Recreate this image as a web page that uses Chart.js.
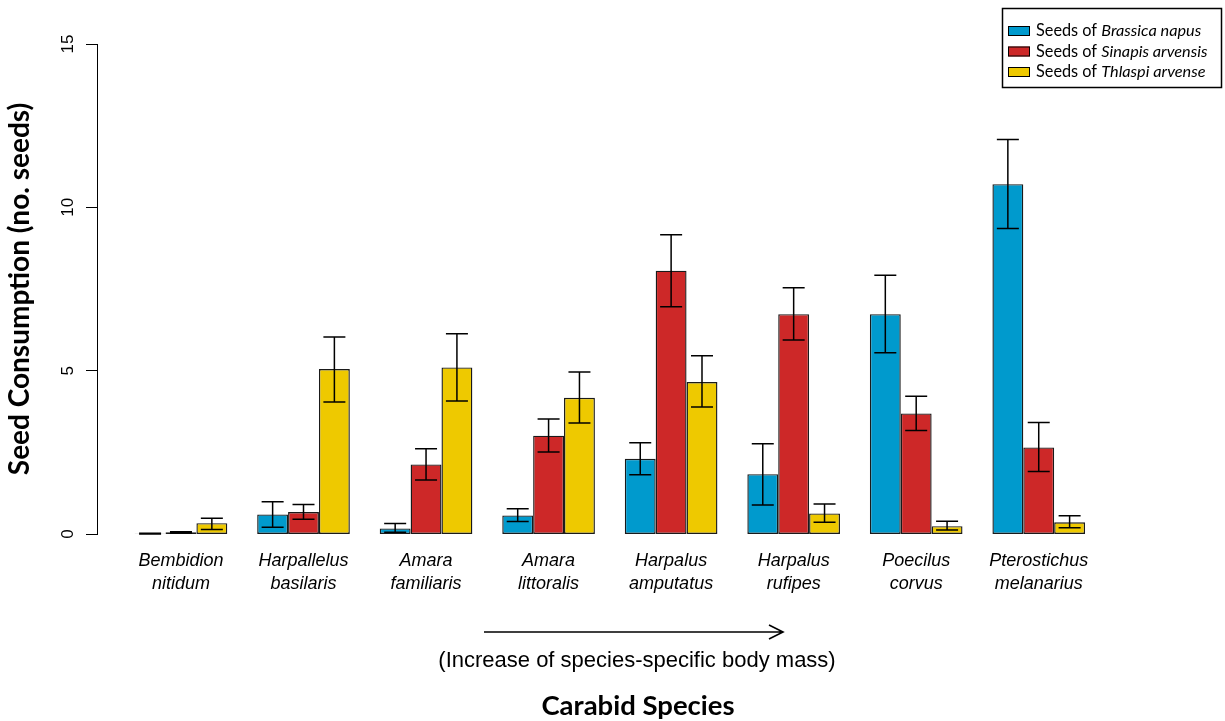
<!DOCTYPE html>
<html>
<head>
<meta charset="utf-8">
<script src="https://cdn.jsdelivr.net/npm/chart.js@4.4.1/dist/chart.umd.min.js"></script>
<style>
  html, body { margin: 0; padding: 0; background: #fff; }
</style>
</head>
<body>
<canvas id="seedChart" width="1225" height="721"></canvas>
<script>
// carabid species, ordered by body mass
const carabidSpecies = [
  ["Bembidion", "nitidum"],
  ["Harpallelus", "basilaris"],
  ["Amara", "familiaris"],
  ["Amara", "littoralis"],
  ["Harpalus", "amputatus"],
  ["Harpalus", "rufipes"],
  ["Poecilus", "corvus"],
  ["Pterostichus", "melanarius"],
];

const seedSpecies = ["Brassica napus", "Sinapis arvensis", "Thlaspi arvense"];

// mean seeds eaten + error bar ends
const brassicaMean = [0.01, 0.6, 0.17, 0.57, 2.3, 1.83, 6.73, 10.71];
const brassicaLow = [0, 0.21, 0.05, 0.38, 1.81, 0.89, 5.55, 9.35];
const brassicaHigh = [0.02, 0.99, 0.32, 0.77, 2.79, 2.76, 7.92, 12.08];

const sinapisMean = [0.05, 0.67, 2.13, 3.01, 8.06, 6.73, 3.69, 2.65];
const sinapisLow = [0.03, 0.45, 1.65, 2.51, 6.96, 5.94, 3.17, 1.91];
const sinapisHigh = [0.07, 0.9, 2.61, 3.52, 9.16, 7.54, 4.22, 3.41];

const thlaspiMean = [0.33, 5.05, 5.1, 4.17, 4.65, 0.63, 0.24, 0.36];
const thlaspiLow = [0.14, 4.04, 4.07, 3.4, 3.89, 0.36, 0.12, 0.19];
const thlaspiHigh = [0.48, 6.03, 6.13, 4.96, 5.46, 0.92, 0.39, 0.56];

const yTicks = [0, 5, 10, 15];

const colors = ["#009ACD", "#CD2828", "#EEC900"];
const arial = "'Liberation Sans', Arial, sans-serif";
const calibri = "Lato, 'Open Sans', sans-serif";

const errorBars = {
  id: "errorBars",
  afterDatasetsDraw(chart) {
    const { ctx } = chart;
    const y = chart.scales.y;
    ctx.save();
    ctx.strokeStyle = "#000";
    ctx.lineWidth = 1.5;
    chart.data.datasets.forEach((ds, di) => {
      chart.getDatasetMeta(di).data.forEach((bar, i) => {
        const top = y.getPixelForValue(ds.errorHigh[i]);
        const bottom = y.getPixelForValue(ds.errorLow[i]);
        const half = 11;
        ctx.beginPath();
        ctx.moveTo(bar.x, top);
        ctx.lineTo(bar.x, bottom);
        ctx.moveTo(bar.x - half, top);
        ctx.lineTo(bar.x + half, top);
        ctx.moveTo(bar.x - half, bottom);
        ctx.lineTo(bar.x + half, bottom);
        ctx.stroke();
      });
    });
    ctx.restore();
  },
};

// legend box with italic species names + bottom arrow/notes
const extras = {
  id: "extras",
  afterDraw(chart) {
    const { ctx } = chart;
    ctx.save();

    ctx.strokeStyle = "#000";
    ctx.lineWidth = 1.5;
    ctx.strokeRect(1002.5, 8.5, 219, 79);
    const rows = [31, 51.5, 72];
    chart.data.datasets.forEach((ds, i) => {
      ctx.fillStyle = ds.backgroundColor;
      ctx.fillRect(1008, rows[i] - 5, 22, 10);
      ctx.lineWidth = 1;
      ctx.strokeRect(1008.5, rows[i] - 4.5, 21, 9);
      ctx.fillStyle = "#000";
      ctx.textBaseline = "middle";
      ctx.textAlign = "left";
      ctx.font = "16.3px " + calibri;
      const prefix = "Seeds of ";
      ctx.fillText(prefix, 1036, rows[i]);
      const w = ctx.measureText(prefix).width;
      ctx.font = "italic 16.3px " + calibri;
      ctx.fillText(seedSpecies[i], 1036 + w, rows[i]);
    });

    // arrow
    ctx.lineWidth = 1.6;
    ctx.beginPath();
    ctx.moveTo(484, 632);
    ctx.lineTo(783, 632);
    ctx.moveTo(769, 625);
    ctx.lineTo(783, 632);
    ctx.lineTo(769, 639);
    ctx.stroke();

    ctx.fillStyle = "#000";
    ctx.textAlign = "center";
    ctx.textBaseline = "middle";
    ctx.font = "22px " + arial;
    ctx.fillText("(Increase of species-specific body mass)", 637, 661);
    ctx.font = "bold 27.5px " + calibri;
    ctx.fillText("Carabid Species", 638, 706);

    ctx.restore();
  },
};

const ctx = document.getElementById("seedChart").getContext("2d");

const barStyle = {
  borderColor: "#1a1a1a",
  borderWidth: 1.4,
  borderSkipped: false,
  barPercentage: 1,
  categoryPercentage: 0.756,
};

new Chart(ctx, {
  type: "bar",
  data: {
    labels: carabidSpecies,
    datasets: [
      { label: seedSpecies[0], data: brassicaMean, errorLow: brassicaLow, errorHigh: brassicaHigh, backgroundColor: colors[0], ...barStyle },
      { label: seedSpecies[1], data: sinapisMean, errorLow: sinapisLow, errorHigh: sinapisHigh, backgroundColor: colors[1], ...barStyle },
      { label: seedSpecies[2], data: thlaspiMean, errorLow: thlaspiLow, errorHigh: thlaspiHigh, backgroundColor: colors[2], ...barStyle },
    ],
  },
  options: {
    responsive: false,
    animation: false,
    layout: { padding: { top: 44, right: 125, bottom: 117, left: 0 } },
    plugins: {
      legend: { display: false },
      tooltip: { enabled: false },
      title: { display: false },
    },
    scales: {
      x: {
        grid: { display: false, drawTicks: false },
        border: { display: false },
        ticks: {
          color: "#000",
          font: { family: arial, size: 18, style: "italic", lineHeight: 1.3 },
          padding: 15,
          maxRotation: 0,
          autoSkip: false,
        },
        afterFit: (scale) => { scale.height = 70; },
      },
      y: {
        position: "left",
        weight: 0,
        min: 0,
        max: 15,
        grid: { display: false },
        border: { display: false },
        ticks: { display: false },
        afterFit: (scale) => { scale.width = 22.7; },
      },
      yl: {
        position: "left",
        weight: 1,
        min: 0,
        max: 15,
        afterBuildTicks: (scale) => { scale.ticks = yTicks.map((v) => ({ value: v })); },
        grid: { drawOnChartArea: false, drawTicks: true, tickLength: 11, color: "#000", lineWidth: 1 },
        border: { display: true, color: "#000", width: 1 },
        ticks: {
          color: "#000",
          font: { family: arial, size: 17 },
          minRotation: 90,
          maxRotation: 90,
          crossAlign: "center",
          padding: 8,
        },
        title: {
          display: true,
          text: "Seed Consumption (no. seeds)",
          color: "#000",
          font: { family: calibri, size: 28, weight: "bold" },
          padding: { top: 3, bottom: 0 },
        },
        afterFit: (scale) => { scale.width = 97; },
      },
    },
  },
  plugins: [errorBars, extras],
});
</script>
</body>
</html>
